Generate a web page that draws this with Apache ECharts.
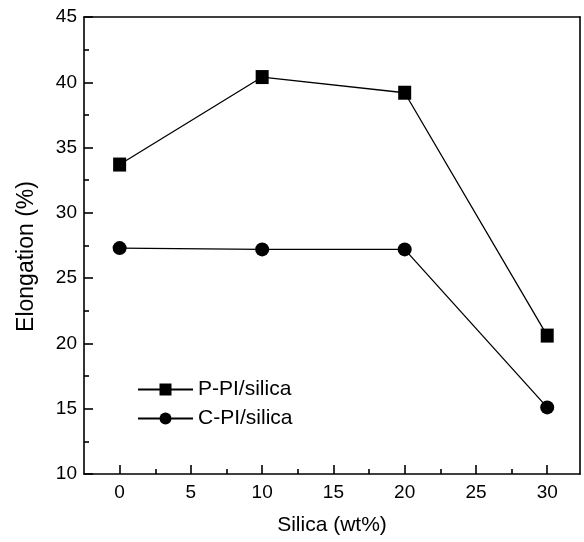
<!DOCTYPE html>
<html><head><meta charset="utf-8">
<script src="https://cdn.jsdelivr.net/npm/echarts@6/dist/echarts.min.js"></script>
<style>html,body{margin:0;padding:0;background:#fff}#c{width:584px;height:542px}</style>
</head><body><div id="c"></div>
<script>
const silica = [0, 10, 20, 30];
const pPI = [33.7, 40.4, 39.2, 20.6];
const cPI = [27.3, 27.2, 27.2, 15.1];
const seriesNames = ['P-PI/silica', 'C-PI/silica'];
const xMajorTicks = [0, 5, 10, 15, 20, 25, 30];
const xMinorTicks = [2.5, 7.5, 12.5, 17.5, 22.5, 27.5];

const chart = echarts.init(document.getElementById('c'));
const font = 'Liberation Sans, Arial, sans-serif';
const lineSt = {color: '#000', width: 1.6};
const X0 = -2.5, X1 = 32.3;
chart.setOption({
  animation: false,
  grid: {left: 84, right: 4, top: 17, bottom: 68},
  legend: {
    orient: 'vertical', left: 132, top: 374, itemWidth: 55, itemHeight: 15, itemGap: 8,
    textStyle: {fontFamily: font, fontSize: 21, color: '#000'},
    data: seriesNames
  },
  xAxis: [
    {type: 'value', min: X0, max: X1,
      axisLine: {show: true, onZero: false, lineStyle: lineSt},
      axisTick: {show: true, inside: true, length: 9, customValues: xMajorTicks, lineStyle: lineSt},
      axisLabel: {fontFamily: font, fontSize: 19, color: '#000', margin: 9, customValues: xMajorTicks},
      splitLine: {show: false},
      name: 'Silica (wt%)', nameLocation: 'middle', nameGap: 41,
      nameTextStyle: {fontFamily: font, fontSize: 21, color: '#000'}},
    {type: 'value', min: X0, max: X1, position: 'bottom',
      axisLine: {show: false, onZero: false},
      axisTick: {show: true, inside: true, length: 5, customValues: xMinorTicks, lineStyle: lineSt},
      axisLabel: {show: false}, splitLine: {show: false}},
    {type: 'value', min: X0, max: X1, position: 'top',
      axisLine: {show: true, onZero: false, lineStyle: lineSt},
      axisTick: {show: false}, axisLabel: {show: false}, splitLine: {show: false}}
  ],
  yAxis: [
    {type: 'value', min: 10, max: 45, interval: 5,
      axisLine: {show: true, onZero: false, lineStyle: lineSt},
      axisTick: {show: true, inside: true, length: 9, lineStyle: lineSt},
      minorTick: {show: true, splitNumber: 2, length: 5, lineStyle: lineSt},
      axisLabel: {fontFamily: font, fontSize: 19, color: '#000', margin: 7},
      splitLine: {show: false},
      name: 'Elongation (%)', nameLocation: 'middle', nameGap: 46,
      nameTextStyle: {fontFamily: font, fontSize: 23, color: '#000', padding: [0, 22, 0, 0]}},
    {type: 'value', min: 10, max: 45, interval: 5, position: 'right',
      axisLine: {show: true, onZero: false, lineStyle: lineSt},
      axisTick: {show: false}, axisLabel: {show: false}, splitLine: {show: false}}
  ],
  series: [
    {name: seriesNames[0], type: 'line', data: silica.map((x, i) => [x, pPI[i]]),
      symbol: 'rect', symbolSize: [13, 14], lineStyle: {color: '#000', width: 1.3},
      itemStyle: {color: '#000'}},
    {name: seriesNames[1], type: 'line', data: silica.map((x, i) => [x, cPI[i]]),
      symbol: 'circle', symbolSize: 14, lineStyle: {color: '#000', width: 1.3},
      itemStyle: {color: '#000'}}
  ]
});
</script></body></html>
